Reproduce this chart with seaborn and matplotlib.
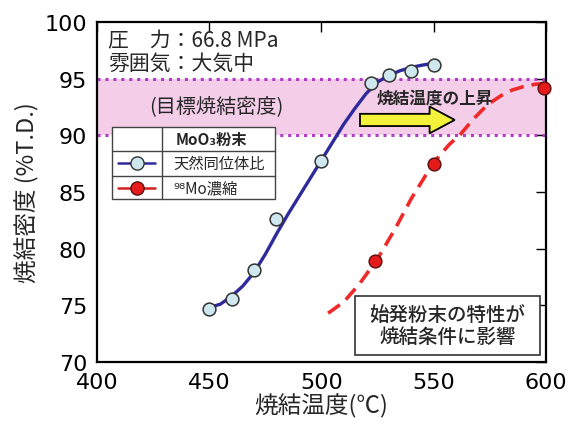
import matplotlib
matplotlib.use("Agg")
import matplotlib.pyplot as plt
import seaborn as sns
import pandas as pd
from matplotlib.patches import Rectangle, FancyArrow
from matplotlib.lines import Line2D

# ---- data ----
natural_temp = [450, 460, 470, 480, 500, 522, 530, 540, 550]
natural_dens = [74.7, 75.6, 78.1, 82.6, 87.7, 94.6, 95.3, 95.7, 96.2]
enriched_temp = [524, 550, 599]
enriched_dens = [78.9, 87.5, 94.2]

natural_curve_t = [450, 455, 460, 465, 470, 475, 480, 485, 490, 495, 500,
                   505, 510, 515, 520, 525, 530, 535, 540, 545, 548]
natural_curve_d = [74.8, 75.1, 75.8, 76.7, 77.9, 79.5, 81.3, 83.0, 84.6, 86.2, 87.8,
                   89.4, 91.0, 92.4, 93.7, 94.7, 95.3, 95.7, 96.0, 96.2, 96.3]
enriched_curve_t = [503, 510, 517, 525, 533, 540, 550, 557, 562, 568, 574,
                    580, 585, 590, 595, 600]
enriched_curve_d = [74.3, 75.3, 76.9, 79.1, 81.8, 84.4, 87.6, 89.2, 90.1, 91.5, 92.7,
                    93.5, 94.0, 94.3, 94.5, 94.6]

target_band = (90, 95)
x_ticks = [400, 450, 500, 550, 600]
y_ticks = [70, 75, 80, 85, 90, 95, 100]

sns.set_theme(style="white")
plt.rcParams['font.family'] = ['DejaVu Sans', 'Noto Sans CJK JP']
jp = ['Noto Sans CJK JP', 'DejaVu Sans']

fig = plt.figure(figsize=(5.77, 4.27), dpi=100)
ax = fig.add_axes([0.168, 0.150, 0.778, 0.796])

blue = "#2e2a9c"
red = "#ee2a2a"

# target band
ax.axhspan(target_band[0], target_band[1], color="#f3c6e6", alpha=0.85, lw=0, zorder=0)
for yv in target_band:
    ax.axhline(yv, color="#b03cc8", lw=2.2, ls=(0, (1, 1.6)), zorder=1)

df_nc = pd.DataFrame({"t": natural_curve_t, "d": natural_curve_d})
df_ec = pd.DataFrame({"t": enriched_curve_t, "d": enriched_curve_d})
sns.lineplot(data=df_nc, x="t", y="d", ax=ax, color=blue, lw=2.4, sort=False, zorder=3)
sns.lineplot(data=df_ec, x="t", y="d", ax=ax, color=red, lw=2.6, sort=False,
             dashes=False, zorder=3)
ax.lines[-1].set_linestyle((0, (4, 2.2)))

df_n = pd.DataFrame({"t": natural_temp, "d": natural_dens})
df_e = pd.DataFrame({"t": enriched_temp, "d": enriched_dens})
sns.scatterplot(data=df_n, x="t", y="d", ax=ax, s=85, color="#cfe8f0",
                edgecolor="#333333", linewidth=1.1, zorder=4)
sns.scatterplot(data=df_e, x="t", y="d", ax=ax, s=85, color="#e51b1b",
                edgecolor="#5a1010", linewidth=1.0, zorder=4, clip_on=False)

ax.set_xlim(400, 600)
ax.set_ylim(70, 100)
ax.set_xticks(x_ticks)
ax.set_yticks(y_ticks)
ax.tick_params(direction="in", length=7, width=1, top=True, right=True,
               labelsize=16, colors="black", pad=7)
for s in ax.spines.values():
    s.set_color("black")
    s.set_linewidth(1.6)

ax.set_xlabel("焼結温度(℃)", fontsize=17, family=jp, labelpad=1)
ax.set_ylabel("焼結密度 (%T.D.)", fontsize=17, family=jp, labelpad=4)

ax.text(0.025, 0.947, "圧　力：66.8 MPa", transform=ax.transAxes, fontsize=15,
        family=jp, va="center", ha="left")
ax.text(0.025, 0.879, "雰囲気：大気中", transform=ax.transAxes, fontsize=15,
        family=jp, va="center", ha="left")
ax.text(0.265, 0.753, "(目標焼結密度)", transform=ax.transAxes, fontsize=14.5,
        family=jp, va="center", ha="center", zorder=5)

# arrow + text
ax.add_patch(FancyArrow(0.586, 0.712, 0.211, 0, width=0.036, head_width=0.079,
                        head_length=0.056, transform=ax.transAxes, facecolor="#f2f23a",
                        edgecolor="black", lw=1.3, length_includes_head=True, zorder=5))
ax.text(0.624, 0.776, "焼結温度の上昇", transform=ax.transAxes, fontsize=12,
        family=jp, weight="bold", va="center", ha="left", zorder=5)

# legend table
lx0, lx1, lxm = 0.033, 0.396, 0.145
ly = [0.691, 0.621, 0.547, 0.479]
ax.add_patch(Rectangle((lx0, ly[3]), lx1 - lx0, ly[0] - ly[3], transform=ax.transAxes,
                       facecolor="white", edgecolor="#444444", lw=1.0, zorder=6))
for yv in ly[1:3]:
    ax.add_line(Line2D([lx0, lx1], [yv, yv], transform=ax.transAxes, color="#444444",
                       lw=1.0, zorder=7))
ax.add_line(Line2D([lxm, lxm], [ly[0], ly[3]], transform=ax.transAxes, color="#444444",
                   lw=1.0, zorder=7))
ax.text(lxm + 0.03, (ly[0] + ly[1]) / 2, "MoO₃粉末", transform=ax.transAxes,
        fontsize=11, weight="bold", family=jp, va="center", ha="left", zorder=8)
ax.text(lxm + 0.025, (ly[1] + ly[2]) / 2, "天然同位体比", transform=ax.transAxes,
        fontsize=11, family=jp, va="center", ha="left", zorder=8)
ax.text(lxm + 0.025, (ly[2] + ly[3]) / 2, "⁹⁸Mo濃縮", transform=ax.transAxes,
        fontsize=11, family=jp, va="center", ha="left", zorder=8)
for (yc, lc, fc, ec) in [((ly[1] + ly[2]) / 2, blue, "#cfe8f0", "#333333"),
                         ((ly[2] + ly[3]) / 2, "#d42020", "#e51b1b", "#5a1010")]:
    ax.add_line(Line2D([lx0 + 0.015, lxm - 0.015], [yc, yc], transform=ax.transAxes,
                       color=lc, lw=1.8, zorder=8))
    ax.add_line(Line2D([(lx0 + lxm) / 2], [yc], transform=ax.transAxes, marker="o",
                       markersize=9.5, markerfacecolor=fc, markeredgecolor=ec,
                       markeredgewidth=1.0, zorder=9))

# bottom-right note box
ax.add_patch(Rectangle((0.575, 0.021), 0.412, 0.173, transform=ax.transAxes,
                       facecolor="white", edgecolor="#333333", lw=1.2, zorder=6))
ax.text(0.781, 0.107, "始発粉末の特性が\n焼結条件に影響", transform=ax.transAxes,
        fontsize=14, family=jp, weight="medium", va="center", ha="center",
        linespacing=1.2, zorder=7)

fig.savefig("out.png", dpi=100, facecolor="white")
